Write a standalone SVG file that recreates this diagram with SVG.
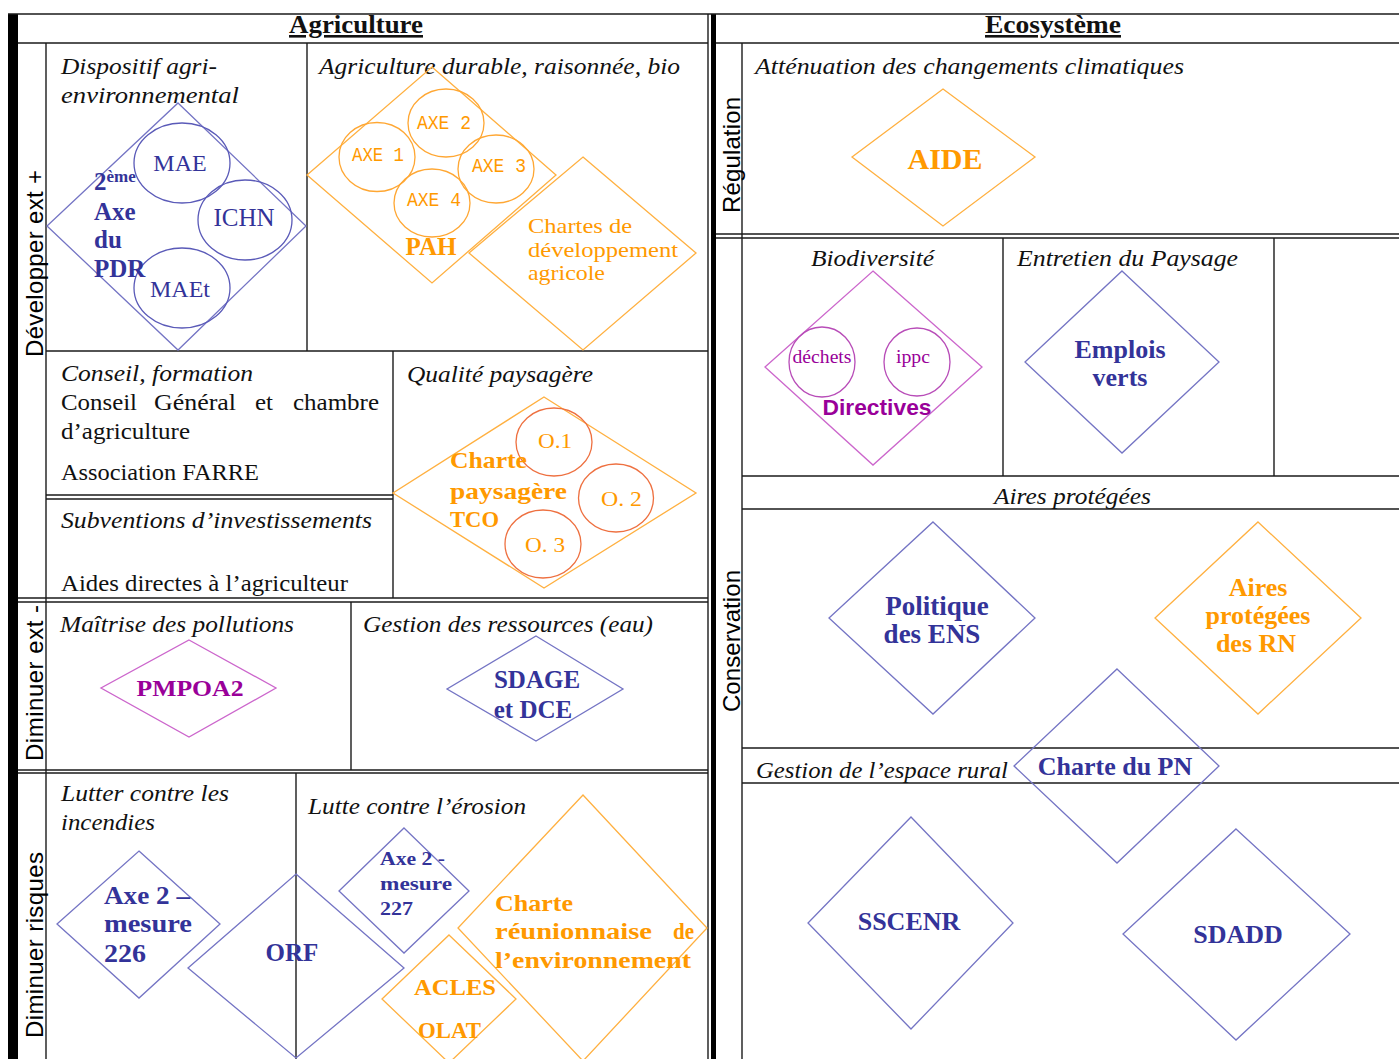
<svg xmlns="http://www.w3.org/2000/svg" width="1399" height="1059" viewBox="0 0 1399 1059">
<style>
.ln{stroke:#1a1a1a;stroke-width:1.4;fill:none}
.db{fill:none;stroke:#7474c4;stroke-width:1.3}
.do{fill:none;stroke:#ffb040;stroke-width:1.3}
.dp{fill:none;stroke:#cc66cc;stroke-width:1.3}
.eb{fill:none;stroke:#5a5ab8;stroke-width:1.3}
.eo{fill:none;stroke:#ffa733;stroke-width:1.3}
.er{fill:none;stroke:#ee7040;stroke-width:1.3}
.ep{fill:none;stroke:#b84cb8;stroke-width:1.3}
text{font-family:"Liberation Serif",serif}
.it{font-style:italic;font-size:24px;fill:#111}
.rg{font-size:24px;fill:#111}
.hd{font-weight:bold;font-size:26px;fill:#111;text-decoration:underline}
.sd{font-family:"Liberation Sans",sans-serif;font-size:24px;fill:#000}
.tb{font-weight:bold;fill:#333399}
.to{font-weight:bold;fill:#ff9900}
.tp{font-weight:bold;fill:#990099}
.mono{font-family:"Liberation Mono",monospace;font-size:21px;fill:#ff9900}
.c{text-anchor:middle}
</style>
<rect width="1399" height="1059" fill="#fff"/>
<g id="grid">
<rect x="8" y="14" width="10" height="1045" fill="#000"/>
<rect x="711" y="14" width="5" height="1045" fill="#000"/>
<line class="ln" x1="8" y1="14" x2="1399" y2="14"/>
<line class="ln" x1="18" y1="43" x2="708" y2="43"/>
<line class="ln" x1="716" y1="43" x2="1399" y2="43"/>
<line class="ln" x1="46" y1="43" x2="46" y2="1059"/>
<line class="ln" x1="307" y1="43" x2="307" y2="351"/>
<line class="ln" x1="46" y1="351" x2="708" y2="351"/>
<line class="ln" x1="393" y1="351" x2="393" y2="598"/>
<line class="ln" x1="46" y1="495" x2="393" y2="495"/>
<line class="ln" x1="46" y1="499" x2="393" y2="499"/>
<line class="ln" x1="18" y1="598" x2="708" y2="598"/>
<line class="ln" x1="18" y1="602" x2="708" y2="602"/>
<line class="ln" x1="351" y1="602" x2="351" y2="770"/>
<line class="ln" x1="18" y1="770" x2="708" y2="770"/>
<line class="ln" x1="18" y1="773" x2="708" y2="773"/>
<line class="ln" x1="296" y1="773" x2="296" y2="1059"/>
<line class="ln" x1="708" y1="14" x2="708" y2="1059"/>
<line class="ln" x1="742" y1="43" x2="742" y2="1059"/>
<line class="ln" x1="716" y1="234" x2="1399" y2="234"/>
<line class="ln" x1="716" y1="238" x2="1399" y2="238"/>
<line class="ln" x1="1003" y1="238" x2="1003" y2="476"/>
<line class="ln" x1="1274" y1="238" x2="1274" y2="476"/>
<line class="ln" x1="742" y1="476" x2="1399" y2="476"/>
<line class="ln" x1="742" y1="509" x2="1399" y2="509"/>
<line class="ln" x1="742" y1="748" x2="1399" y2="748"/>
<line class="ln" x1="742" y1="783" x2="1399" y2="783"/>
</g>
<g id="labels">
<text class="hd" x="289" y="33" textLength="134" lengthAdjust="spacingAndGlyphs">Agriculture</text>
<text class="hd" x="985" y="33" textLength="136" lengthAdjust="spacingAndGlyphs">Ecosystème</text>
<text class="sd" transform="translate(43,357) rotate(-90)" textLength="187" lengthAdjust="spacing">Développer ext +</text>
<text class="sd" transform="translate(43,761) rotate(-90)" textLength="156" lengthAdjust="spacing">Diminuer ext -</text>
<text class="sd" transform="translate(43,1038) rotate(-90)" textLength="186" lengthAdjust="spacing">Diminuer risques</text>
<text class="sd" transform="translate(740,213) rotate(-90)" textLength="116" lengthAdjust="spacing">Régulation</text>
<text class="sd" transform="translate(740,712) rotate(-90)" textLength="142" lengthAdjust="spacing">Conservation</text>
<text class="it" x="61" y="74" textLength="156" lengthAdjust="spacingAndGlyphs">Dispositif agri-</text>
<text class="it" x="61" y="103" textLength="178" lengthAdjust="spacingAndGlyphs">environnemental</text>
<text class="it" x="319" y="74" textLength="361" lengthAdjust="spacingAndGlyphs">Agriculture durable, raisonnée, bio</text>
<text class="it" x="61" y="381" textLength="192" lengthAdjust="spacingAndGlyphs">Conseil, formation</text>
<text class="rg" x="61" y="410" textLength="76" lengthAdjust="spacingAndGlyphs">Conseil</text>
<text class="rg" x="154" y="410" textLength="82" lengthAdjust="spacingAndGlyphs">Général</text>
<text class="rg" x="255" y="410" textLength="18" lengthAdjust="spacingAndGlyphs">et</text>
<text class="rg" x="293" y="410" textLength="86" lengthAdjust="spacingAndGlyphs">chambre</text>
<text class="rg" x="61" y="439" textLength="129" lengthAdjust="spacingAndGlyphs">d’agriculture</text>
<text class="rg" x="61" y="480" textLength="198" lengthAdjust="spacingAndGlyphs">Association FARRE</text>
<text class="it" x="61" y="528" textLength="311" lengthAdjust="spacingAndGlyphs">Subventions d’investissements</text>
<text class="rg" x="61" y="591" textLength="287" lengthAdjust="spacingAndGlyphs">Aides directes à l’agriculteur</text>
<text class="it" x="407" y="382" textLength="186" lengthAdjust="spacingAndGlyphs">Qualité paysagère</text>
<text class="it" x="60" y="632" textLength="234" lengthAdjust="spacingAndGlyphs">Maîtrise des pollutions</text>
<text class="it" x="363" y="632" textLength="290" lengthAdjust="spacingAndGlyphs">Gestion des ressources (eau)</text>
<text class="it" x="61" y="801" textLength="168" lengthAdjust="spacingAndGlyphs">Lutter contre les</text>
<text class="it" x="61" y="830" textLength="94" lengthAdjust="spacingAndGlyphs">incendies</text>
<text class="it" x="308" y="814" textLength="218" lengthAdjust="spacingAndGlyphs">Lutte contre l’érosion</text>
<text class="it" x="755" y="74" textLength="429" lengthAdjust="spacingAndGlyphs">Atténuation des changements climatiques</text>
<text class="it" x="811" y="266" textLength="123" lengthAdjust="spacingAndGlyphs">Biodiversité</text>
<text class="it" x="1017" y="266" textLength="221" lengthAdjust="spacingAndGlyphs">Entretien du Paysage</text>
<text class="it" x="994" y="504" textLength="157" lengthAdjust="spacingAndGlyphs">Aires protégées</text>
<text class="it" x="756" y="778" textLength="252" lengthAdjust="spacingAndGlyphs">Gestion de l’espace rural</text>
</g>
<g id="n-pdr">
<polygon class="db" points="178,103 306,226 178,350 47,226"/>
<ellipse class="eb" cx="182" cy="163" rx="48" ry="40"/>
<ellipse class="eb" cx="245" cy="220" rx="47" ry="40"/>
<ellipse class="eb" cx="182" cy="288" rx="48" ry="40"/>
<text class="c" x="180" y="171" font-size="24" fill="#333399">MAE</text>
<text class="c" x="244" y="226" font-size="25" fill="#333399">ICHN</text>
<text class="c" x="180" y="297" font-size="24" fill="#333399">MAEt</text>
<text class="tb" x="94" y="190" font-size="25">2<tspan font-size="17" dy="-8">ème</tspan></text>
<text class="tb" x="94" y="220" font-size="25">Axe</text>
<text class="tb" x="94" y="248" font-size="25">du</text>
<text class="tb" x="94" y="277" font-size="25">PDR</text>
</g>
<g id="n-pah">
<polygon class="do" points="432,67 556,175 432,283 307,175"/>
<ellipse class="eo" cx="377" cy="157" rx="38" ry="34.5"/>
<ellipse class="eo" cx="446" cy="123" rx="38" ry="34"/>
<ellipse class="eo" cx="496" cy="169" rx="38" ry="34"/>
<ellipse class="eo" cx="432" cy="203" rx="38" ry="34"/>
<text class="mono" x="352" y="161" textLength="52" lengthAdjust="spacingAndGlyphs">AXE 1</text>
<text class="mono" x="417" y="129" textLength="54" lengthAdjust="spacingAndGlyphs">AXE 2</text>
<text class="mono" x="472" y="172" textLength="54" lengthAdjust="spacingAndGlyphs">AXE 3</text>
<text class="mono" x="407" y="206" textLength="54" lengthAdjust="spacingAndGlyphs">AXE 4</text>
<text class="to c" x="431" y="255" font-size="25">PAH</text>
</g>
<g id="n-chartes">
<polygon class="do" points="583,157 696,253 583,350 469,253"/>
<text x="528" y="233" font-size="22" fill="#ff9900" textLength="104" lengthAdjust="spacingAndGlyphs">Chartes de</text>
<text x="528" y="257" font-size="22" fill="#ff9900" textLength="150" lengthAdjust="spacingAndGlyphs">développement</text>
<text x="528" y="280" font-size="22" fill="#ff9900" textLength="77" lengthAdjust="spacingAndGlyphs">agricole</text>
</g>
<g id="n-tco">
<polygon class="do" points="544,397 696,493 544,588 393,493"/>
<ellipse class="er" cx="554" cy="442" rx="38" ry="34"/>
<ellipse class="er" cx="616" cy="498" rx="37.5" ry="34"/>
<ellipse class="er" cx="543" cy="544" rx="38" ry="34"/>
<text x="538" y="448" font-size="22" fill="#ff9900" textLength="34" lengthAdjust="spacingAndGlyphs">O.1</text>
<text x="601" y="506" font-size="22" fill="#ff9900" textLength="41" lengthAdjust="spacingAndGlyphs">O. 2</text>
<text x="525" y="552" font-size="22" fill="#ff9900" textLength="40" lengthAdjust="spacingAndGlyphs">O. 3</text>
<text class="to" x="450" y="468" font-size="23" textLength="77" lengthAdjust="spacingAndGlyphs">Charte</text>
<text class="to" x="450" y="499" font-size="23" textLength="117" lengthAdjust="spacingAndGlyphs">paysagère</text>
<text class="to" x="450" y="527" font-size="23" textLength="49" lengthAdjust="spacingAndGlyphs">TCO</text>
</g>
<g id="n-pmpoa2">
<polygon class="dp" points="189,640 276,688 189,737 101,688"/>
<text class="tp c" x="190" y="696" font-size="24" textLength="107" lengthAdjust="spacingAndGlyphs">PMPOA2</text>
</g>
<g id="n-sdage">
<polygon class="db" points="536,636 623,689 536,741 447,689"/>
<text class="tb c" x="537" y="688" font-size="25">SDAGE</text>
<text class="tb c" x="533" y="718" font-size="25">et DCE</text>
</g>
<g id="n-axe226">
<polygon class="db" points="139,851 220,924 139,998 57,924"/>
<text class="tb" x="104" y="904" font-size="25" textLength="86" lengthAdjust="spacingAndGlyphs">Axe 2 –</text>
<text class="tb" x="104" y="932" font-size="25" textLength="88" lengthAdjust="spacingAndGlyphs">mesure</text>
<text class="tb" x="104" y="962" font-size="25" textLength="42" lengthAdjust="spacingAndGlyphs">226</text>
</g>
<g id="n-orf">
<polygon class="db" points="296,874 404,968 296,1058 188,968"/>
<text class="tb c" x="292" y="961" font-size="25">ORF</text>
</g>
<g id="n-axe227">
<polygon class="db" points="404,828 469,891 404,953 339,891"/>
<text class="tb" x="380" y="865" font-size="19" textLength="65" lengthAdjust="spacingAndGlyphs">Axe 2 -</text>
<text class="tb" x="380" y="890" font-size="19" textLength="72" lengthAdjust="spacingAndGlyphs">mesure</text>
<text class="tb" x="380" y="915" font-size="19" textLength="33" lengthAdjust="spacingAndGlyphs">227</text>
</g>
<g id="n-acles">
<polygon class="do" points="449,935 516,999 449,1063 382,999"/>
<text class="to" x="414" y="995" font-size="24" textLength="82" lengthAdjust="spacingAndGlyphs">ACLES</text>
<text class="to" x="418" y="1038" font-size="24" textLength="63" lengthAdjust="spacingAndGlyphs">OLAT</text>
</g>
<g id="n-charte-env">
<polygon class="do" points="583,795 707,928 583,1061 458,928"/>
<text class="to" x="495" y="911" font-size="24" textLength="78" lengthAdjust="spacingAndGlyphs">Charte</text>
<text class="to" x="495" y="939" font-size="24" textLength="157" lengthAdjust="spacingAndGlyphs">réunionnaise</text>
<text class="to" x="673" y="939" font-size="24" textLength="21" lengthAdjust="spacingAndGlyphs">de</text>
<text class="to" x="495" y="968" font-size="24" textLength="196" lengthAdjust="spacingAndGlyphs">l’environnement</text>
</g>
<g id="n-aide">
<polygon class="do" points="943,89 1035,157 943,226 852,157"/>
<text class="to c" x="945" y="169" font-size="30" textLength="75" lengthAdjust="spacingAndGlyphs">AIDE</text>
</g>
<g id="n-directives">
<polygon class="dp" points="873,271 982,367 873,465 765,367"/>
<ellipse class="ep" cx="822" cy="362" rx="33" ry="35"/>
<ellipse class="ep" cx="917" cy="362" rx="33" ry="34"/>
<text class="c" x="822" y="363" font-size="19" fill="#990099" textLength="59" lengthAdjust="spacingAndGlyphs">déchets</text>
<text class="c" x="913" y="363" font-size="19" fill="#990099" textLength="34" lengthAdjust="spacingAndGlyphs">ippc</text>
<text class="tp c" x="877" y="415" font-size="22" style="font-family:'Liberation Sans',sans-serif" textLength="109" lengthAdjust="spacingAndGlyphs">Directives</text>
</g>
<g id="n-emplois">
<polygon class="db" points="1122,271 1219,362 1122,453 1025,362"/>
<text class="tb c" x="1120" y="358" font-size="26">Emplois</text>
<text class="tb c" x="1120" y="386" font-size="26">verts</text>
</g>
<g id="n-ens">
<polygon class="db" points="933,522 1035,618 933,714 829,618"/>
<text class="tb c" x="937" y="615" font-size="27">Politique</text>
<text class="tb c" x="932" y="643" font-size="27">des ENS</text>
</g>
<g id="n-rn">
<polygon class="do" points="1258,522 1361,618 1258,714 1155,618"/>
<text class="to c" x="1258" y="596" font-size="26">Aires</text>
<text class="to c" x="1258" y="624" font-size="26">protégées</text>
<text class="to c" x="1256" y="652" font-size="26">des RN</text>
</g>
<g id="n-pn">
<polygon class="db" points="1117,669 1219,766 1117,863 1014,766" fill="#fff"/>
<text class="tb c" x="1115" y="775" font-size="26">Charte du PN</text>
</g>
<g id="n-sscenr">
<polygon class="db" points="911,817 1013,923 911,1029 808,923"/>
<text class="tb c" x="909" y="930" font-size="26">SSCENR</text>
</g>
<g id="n-sdadd">
<polygon class="db" points="1236,829 1350,934 1236,1040 1123,934"/>
<text class="tb c" x="1238" y="943" font-size="26">SDADD</text>
</g>
<g id="connectors"/>
</svg>
